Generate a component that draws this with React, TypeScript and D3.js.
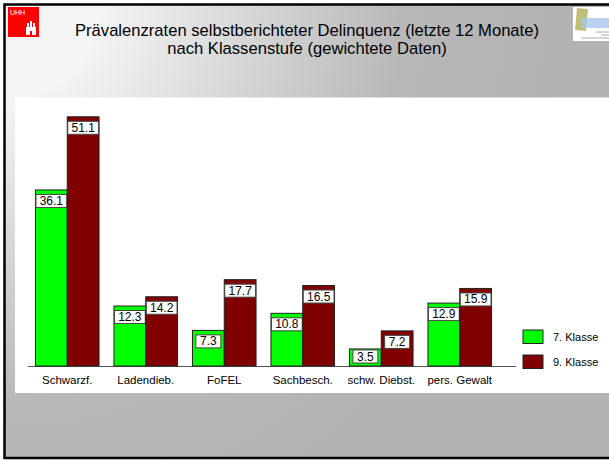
import * as d3 from 'd3'

const CATEGORIES = ['Schwarzf.', 'Ladendieb.', 'FoFEL', 'Sachbesch.', 'schw. Diebst.', 'pers. Gewalt']
const KLASSE7 = [36.1, 12.3, 7.3, 10.8, 3.5, 12.9]
const KLASSE9 = [51.1, 14.2, 17.7, 16.5, 7.2, 15.9]
const SERIES = ['7. Klasse', '9. Klasse']
const COLORS = ['#00ff00', '#800000']
const TITLE = [
  'Prävalenzraten selbstberichteter Delinquenz (letzte 12 Monate)',
  'nach Klassenstufe (gewichtete Daten)',
]

const W = 609
const H = 461
const BASE = 366

export default function App() {
  const x = d3.scaleBand().domain(CATEGORIES).range([28, 499]).paddingInner(0.19).paddingOuter(0.095)
  const sub = d3.scaleBand().domain(SERIES).range([0, x.bandwidth()])
  const y = d3.scaleLinear().domain([0, 55]).range([BASE, BASE - 55 * 4.877])

  const rows = CATEGORIES.map((c, i) => ({ cat: c, vals: [KLASSE7[i], KLASSE9[i]] }))

  return (
    <svg width={W} height={H} style={{ position: 'absolute', left: 0, top: 0, fontFamily: 'Liberation Sans, Arial, sans-serif' }}>
      <defs>
        <radialGradient id="bg" gradientUnits="userSpaceOnUse" cx="0" cy="0" r="560">
          <stop offset="0.18" stopColor="#f4f4f4" />
          <stop offset="0.72" stopColor="#b8b8b8" />
          <stop offset="1" stopColor="#b2b2b2" />
        </radialGradient>
      </defs>
      <rect x={0} y={0} width={W} height={H} fill="#ffffff" />
      <rect x={4.5} y={4.5} width={W + 10} height={453.5} fill="url(#bg)" stroke="#000" strokeWidth={2.5} />
      <rect x={15} y={97.5} width={W - 15} height={295.5} fill="#ffffff" />

      {/* UHH logo */}
      <g>
        <rect x={8} y={7} width={31} height={30} fill="#ff0000" />
        <text x={10} y={15} fontSize={7} fill="#fff">UHH</text>
        <rect x={26} y={27} width={10} height={8} fill="#fff" />
        <rect x={27} y={23} width={2} height={4} fill="#fff" />
        <rect x={30} y={21} width={2} height={6} fill="#fff" />
        <rect x={33} y={23} width={2} height={4} fill="#fff" />
        <rect x={30} y={31} width={2} height={4} fill="#ff0000" />
      </g>

      {/* right logo */}
      <g>
        <rect x={573} y={7} width={36} height={34} fill="#ffffff" />
        <polygon points="577,8 588,9 586,31 575,30" fill="#b4b460" opacity={0.85} />
        <rect x={581} y={18} width={28} height={10} fill="#a8c4ee" opacity={0.8} />
        <line x1={596} y1={32} x2={609} y2={32} stroke="#888" strokeWidth={0.7} />
        <line x1={601} y1={35} x2={609} y2={35} stroke="#888" strokeWidth={0.7} />
        <line x1={581} y1={38} x2={609} y2={38} stroke="#888" strokeWidth={0.7} />
      </g>

      {TITLE.map((t, i) => (
        <text key={t} x={307} y={36 + i * 18} textAnchor="middle" fontSize={16.6} fill="#000">
          {t}
        </text>
      ))}

      <line x1={28} x2={516} y1={BASE + 0.5} y2={BASE + 0.5} stroke="#555" strokeWidth={1} />

      {rows.map((r) => (
        <g key={r.cat} transform={`translate(${x(r.cat)},0)`}>
          {r.vals.map((v, j) => {
            const bx = sub(SERIES[j])!
            const top = y(v)
            const bw = sub.bandwidth()
            const label = v.toFixed(1)
            const lw = label.length > 3 ? bw - 1 : 25
            const ly = Math.min(top + 4.5, BASE - 16)
            return (
              <g key={j}>
                <rect x={bx} y={top} width={bw} height={BASE - top} fill={COLORS[j]} stroke="#222" strokeWidth={1} />
                <rect x={bx + (bw - lw) / 2} y={ly} width={lw} height={13} fill="#fff" stroke="#444" strokeWidth={1} />
                <text x={bx + bw / 2} y={ly + 10.5} textAnchor="middle" fontSize={12} fill="#000">
                  {label}
                </text>
              </g>
            )
          })}
          <text x={x.bandwidth() / 2} y={384} textAnchor="middle" fontSize={11.5} fill="#000">
            {r.cat}
          </text>
        </g>
      ))}

      {SERIES.map((s, i) => (
        <g key={s} transform={`translate(523,${330 + i * 25})`}>
          <rect x={0} y={0} width={20} height={13.5} fill={COLORS[i]} stroke="#222" strokeWidth={1} />
          <text x={30} y={11} fontSize={11} fill="#000">{s}</text>
        </g>
      ))}
    </svg>
  )
}
